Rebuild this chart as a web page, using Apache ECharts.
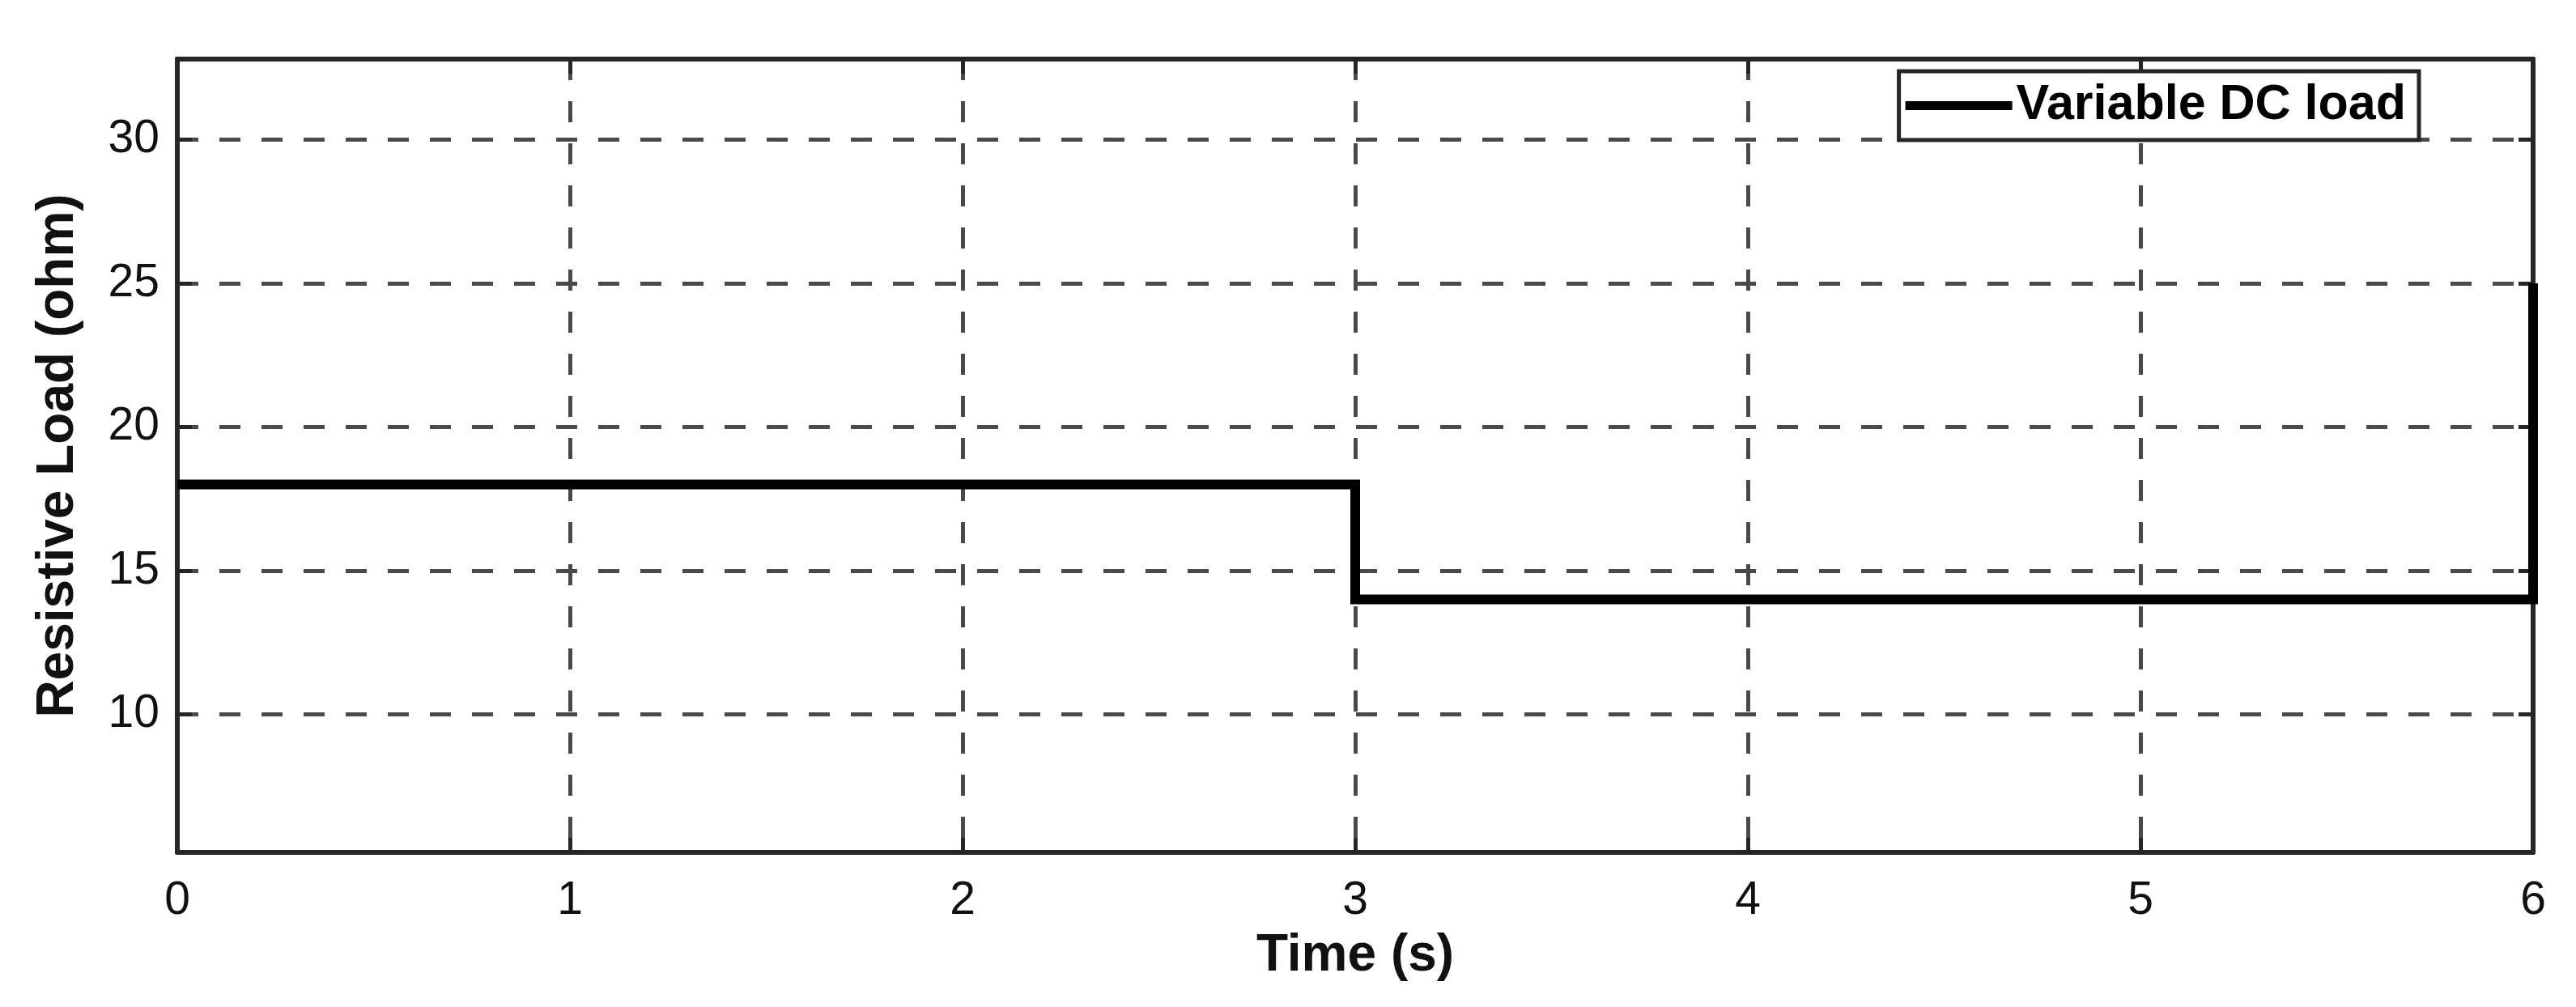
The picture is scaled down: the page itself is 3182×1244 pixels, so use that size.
<!DOCTYPE html>
<html>
<head>
<meta charset="utf-8">
<title>Variable DC load</title>
<script src="https://cdn.jsdelivr.net/npm/echarts@6/dist/echarts.min.js"></script>
<style>
  html, body { margin: 0; padding: 0; background: #fff; }
  #chart { width: 3182px; height: 1244px; }
</style>
</head>
<body>
<div id="chart"></div>
<script>
// step profile of the load resistance
const timeValues = [0, 3, 3, 6, 6]
const loadValues = [18, 18, 14, 14, 25]
const seriesName = 'Variable DC load'

const xTicks = [0, 1, 2, 3, 4, 5, 6]
const yTicks = [10, 15, 20, 25, 30]

const FONT = '"Liberation Sans", Arial, Helvetica, sans-serif'
const AXIS_COLOR = '#262626'

const chart = echarts.init(document.getElementById('chart'))

const gridLine = {
  show: true,
  lineStyle: { color: '#4a4a4a', width: 5, type: [26, 26] },
}

const option = {
  backgroundColor: '#fff',
  animation: false,
  grid: { left: 219, right: 53, top: 73, bottom: 191 },
  legend: {
    data: [seriesName],
    right: 194,
    top: 88,
    orient: 'horizontal',
    icon: 'rect',
    itemWidth: 132,
    itemHeight: 11,
    padding: [12, 16, 12, 8],
    borderColor: AXIS_COLOR,
    borderWidth: 5,
    backgroundColor: '#fff',
    textStyle: {
      fontFamily: FONT,
      fontSize: 61,
      fontWeight: 'bold',
      color: '#000',
    },
  },
  xAxis: [
    {
      type: 'value',
      min: xTicks[0],
      max: xTicks[xTicks.length - 1],
      interval: 1,
      name: 'Time (s)',
      nameLocation: 'middle',
      nameGap: 96,
      nameTextStyle: { fontFamily: FONT, fontSize: 64, fontWeight: 'bold', color: '#111' },
      axisLine: { show: true, onZero: false, lineStyle: { color: AXIS_COLOR, width: 6 } },
      axisTick: { show: true, inside: true, length: 18, lineStyle: { color: AXIS_COLOR, width: 5 } },
      axisLabel: { margin: 32, fontFamily: FONT, fontSize: 57, color: '#111' },
      splitLine: gridLine,
    },
    {
      type: 'value',
      position: 'top',
      min: xTicks[0],
      max: xTicks[xTicks.length - 1],
      interval: 1,
      axisLine: { show: true, onZero: false, lineStyle: { color: AXIS_COLOR, width: 6 } },
      axisTick: { show: true, inside: true, length: 18, lineStyle: { color: AXIS_COLOR, width: 5 } },
      axisLabel: { show: false },
      splitLine: { show: false },
    },
  ],
  yAxis: [
    {
      type: 'value',
      min: 5.2,
      max: 32.8,
      name: 'Resistive Load (ohm)',
      nameLocation: 'middle',
      nameGap: 115,
      nameTextStyle: { fontFamily: FONT, fontSize: 64, fontWeight: 'bold', color: '#111' },
      axisLine: { show: true, onZero: false, lineStyle: { color: AXIS_COLOR, width: 6 } },
      axisTick: {
        show: true, inside: true, length: 18,
        customValues: yTicks,
        lineStyle: { color: AXIS_COLOR, width: 5 },
      },
      axisLabel: {
        margin: 22,
        customValues: yTicks,
        fontFamily: FONT, fontSize: 57, color: '#111',
      },
      splitLine: gridLine,
    },
    {
      type: 'value',
      position: 'right',
      min: 5.2,
      max: 32.8,
      axisLine: { show: true, onZero: false, lineStyle: { color: AXIS_COLOR, width: 6 } },
      axisTick: {
        show: true, inside: true, length: 18,
        customValues: yTicks,
        lineStyle: { color: AXIS_COLOR, width: 5 },
      },
      axisLabel: { show: false },
      splitLine: { show: false },
    },
  ],
  series: [
    {
      name: seriesName,
      type: 'line',
      xAxisIndex: 0,
      yAxisIndex: 0,
      data: timeValues.map((t, i) => [t, loadValues[i]]),
      showSymbol: false,
      clip: false,
      z: 5,
      lineStyle: { color: '#000', width: 12, join: 'miter', cap: 'butt' },
      itemStyle: { color: '#000' },
    },
  ],
}

chart.setOption(option)
</script>
</body>
</html>
